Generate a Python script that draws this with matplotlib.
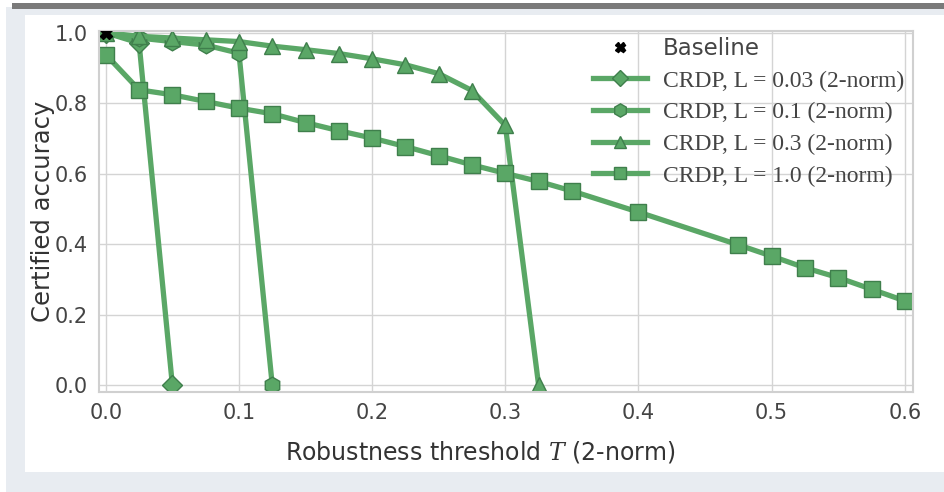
import numpy as np
import matplotlib as mpl
import matplotlib.pyplot as plt
from matplotlib.patches import Rectangle

mpl.rcParams['mathtext.fontset'] = 'dejavuserif'

##data##
T_03 = [0.0, 0.025, 0.05]
acc_03 = [1.0, 0.971, 0.0]

T_10 = [0.0, 0.025, 0.05, 0.075, 0.1, 0.125]
acc_10 = [1.0, 0.985, 0.975, 0.965, 0.942, 0.0]

T_30 = [0.0, 0.025, 0.05, 0.075, 0.1, 0.125, 0.15, 0.175, 0.2, 0.225, 0.25, 0.275, 0.3, 0.325]
acc_30 = [1.0, 0.99, 0.985, 0.98, 0.975, 0.962, 0.952, 0.941, 0.926, 0.909, 0.884, 0.836, 0.737, 0.0]

T_100 = [0.0, 0.025, 0.05, 0.075, 0.1, 0.125, 0.15, 0.175, 0.2, 0.225, 0.25, 0.275, 0.3, 0.325,
         0.35, 0.4, 0.475, 0.5, 0.525, 0.55, 0.575, 0.6]
acc_100 = [0.938, 0.838, 0.824, 0.805, 0.786, 0.770, 0.745, 0.722, 0.701, 0.677, 0.651, 0.625,
           0.601, 0.578, 0.551, 0.491, 0.398, 0.366, 0.333, 0.305, 0.272, 0.239]

baseline_T = [0.0]
baseline_acc = [1.0]

labels = ['CRDP, L = 0.03 (2-norm)', 'CRDP, L = 0.1 (2-norm)',
          'CRDP, L = 0.3 (2-norm)', 'CRDP, L = 1.0 (2-norm)']
xticks = [0.0, 0.1, 0.2, 0.3, 0.4, 0.5, 0.6]
yticks = [0.0, 0.2, 0.4, 0.6, 0.8, 1.0]

green = '#5aa766'
edge = '#3f7f4c'

fig = plt.figure(figsize=(9.44, 4.92), dpi=100)
fig.patch.set_facecolor('#e8ecf1')
# screenshot frame: white card + dark top bar
for (x0, y0, w, h_, c) in [(0.0, 0.0, 0.006, 1.0, 'white'),
                           (0.026, 0.04, 0.974, 0.93, 'white'),
                           (0.0, 0.985, 1.0, 0.015, 'white'),
                           (0.013, 0.982, 0.987, 0.011, '#7a7a7a')]:
    fig.add_artist(Rectangle((x0, y0), w, h_, transform=fig.transFigure,
                             facecolor=c, edgecolor='none', zorder=-5))

ax = fig.add_axes([0.105, 0.203, 0.862, 0.734])
ax.set_facecolor('white')

ax.grid(True, color='#d4d4d4', lw=1.0)
ax.set_axisbelow(True)
for s in ax.spines.values():
    s.set_color('#d0d0d0')
    s.set_linewidth(1.5)

lw = 3.8
ax.plot(T_03, acc_03, '-D', color=green, lw=lw, ms=10, mec=edge, mew=1.0, label=labels[0])
ax.plot(T_10, acc_10, '-h', color=green, lw=lw, ms=12, mec=edge, mew=1.0, label=labels[1])
ax.plot(T_30, acc_30, '-^', color=green, lw=lw, ms=11, mec=edge, mew=1.0, label=labels[2])
ax.plot(T_100, acc_100, '-s', color=green, lw=lw, ms=11, mec=edge, mew=1.0, label=labels[3])
ax.plot(baseline_T, baseline_acc, 'X', color='black', ms=9, ls='none', label='Baseline', zorder=5)

ax.set_xlim(-0.005, 0.606)
ax.set_ylim(-0.02, 1.005)
ax.set_xticks(xticks)
ax.set_yticks(yticks)
ax.set_xticklabels(['%.1f' % v for v in xticks])
ax.set_yticklabels(['%.1f' % v for v in yticks])
ax.tick_params(length=0, labelsize=15, colors='#444444', pad=8)

ax.set_xlabel('Robustness threshold $T$ (2-norm)', fontsize=17, color='#333333', labelpad=9)
ax.xaxis.set_label_coords(0.469, -0.13)
ax.set_ylabel('Certified accuracy', fontsize=17.5, color='#333333', labelpad=0)

h, l = ax.get_legend_handles_labels()
order = [4, 0, 1, 2, 3]
leg = ax.legend([h[i] for i in order], [l[i] for i in order], loc='upper left',
                bbox_to_anchor=(593 / 944, 1 - 37 / 492), bbox_transform=fig.transFigure,
                frameon=False, fontsize=17, markerscale=0.8,
                handlelength=2.3, handletextpad=0.65, labelspacing=0.43,
                borderpad=0, borderaxespad=0)
texts = leg.get_texts()
texts[0].set_fontsize(16.5)
texts[0].set_color('#444444')
for t in texts[1:]:
    t.set_family('Liberation Serif')
    t.set_fontsize(17)
    t.set_color('#444444')

fig.savefig('out.png', dpi=100, facecolor=fig.get_facecolor())
